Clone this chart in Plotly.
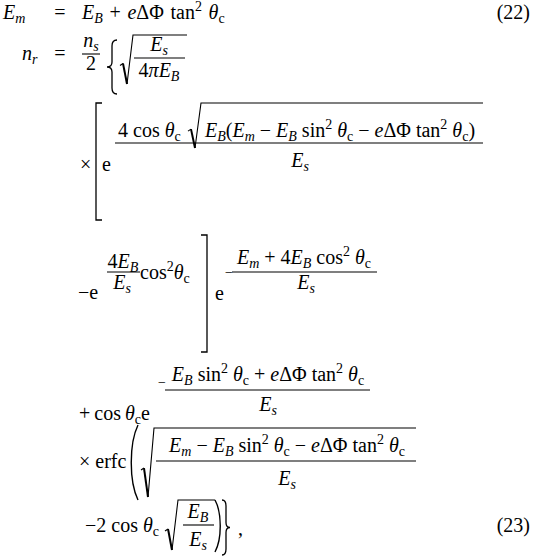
import plotly.graph_objects as go

# ---------------- content (text tokens of the equations) ----------------
def it(s):
    return "<i>" + s + "</i>"

SP = "\u2004"  # slightly wider math space
TH = "\u2009"  # thin space
Em = it("E") + "<sub>" + it("m") + "</sub>"
EB = it("E") + "<sub>" + it("B") + "</sub>"
Es = it("E") + "<sub>" + it("s") + "</sub>"
thc = it("θ") + "<sub>c</sub>"
SQ = "<sup>2</sup>"
eDF = it("e") + "ΔΦ"
small_minus = '<span style="font-size:14px">−</span>'

eq_numbers = ["(22)", "(23)"]
lhs_labels = [Em, it("n") + "<sub>" + it("r") + "</sub>"]
row1_rhs = EB + SP + "+" + SP + eDF + SP + "tan" + SQ + SP + thc
row3_num_a = "4 cos " + thc
row3_num_b = EB + "(" + Em + " − " + EB + " sin" + SQ + " " + thc + " − " + eDF + " tan" + SQ + " " + thc + ")"
row4_num = Em + " + 4" + EB + " cos" + SQ + " " + thc
row5_num = EB + " sin" + SQ + " " + thc + " + " + eDF + " tan" + SQ + " " + thc
row6_num = Em + " − " + EB + " sin" + SQ + " " + thc + " − " + eDF + " tan" + SQ + " " + thc

tokens = [
    lhs_labels[0], "=", row1_rhs, eq_numbers[0],
    lhs_labels[1], "=", it("n") + "<sub>" + it("s") + "</sub>", "2", Es, "4" + it("π") + EB,
    "×", "e", row3_num_a, row3_num_b, Es,
    "−e", "4" + EB, Es, "cos" + SQ + thc, "e", small_minus, row4_num, Es,
    "+" + TH + "cos" + TH + thc + "e", small_minus, row5_num, Es,
    "× erfc", row6_num, Es,
    "−2 cos " + thc, EB, Es, ",", eq_numbers[1],
]
tok_x = [
    3, 60, 82, 530,
    22, 60, 91, 91, 159, 159,
    80, 102, 118, 205, 300,
    78, 123, 122, 140, 215, 225, 304, 306,
    79, 158, 268, 268,
    79, 287, 287,
    85, 198, 198, 238, 530,
]
tok_base = [
    19, 19, 19, 19,
    60, 60, 47, 70, 51, 77,
    171, 171, 137, 137, 167,
    299, 268, 289, 279, 300, 277, 264, 289,
    420, 387, 381, 411,
    468, 452, 485,
    532, 518, 546, 535, 532,
]
tok_align = [
    "l", "c", "l", "r",
    "l", "c", "c", "c", "c", "c",
    "l", "l", "l", "l", "c",
    "l", "c", "c", "l", "l", "l", "c", "c",
    "l", "l", "c", "c",
    "l", "c", "c",
    "l", "c", "c", "l", "r",
]

FS = 20
FONT = dict(family="Liberation Serif", size=FS, color="black")
POS = {"l": "middle right", "c": "middle center", "r": "middle left"}

fig = go.Figure()
for a in ["l", "c", "r"]:
    idx = [i for i, v in enumerate(tok_align) if v == a]
    fig.add_trace(go.Scatter(
        x=[tok_x[i] for i in idx],
        y=[tok_base[i] - 0.25 * FS for i in idx],
        text=[tokens[i] for i in idx],
        mode="text", textposition=POS[a], textfont=FONT,
        hoverinfo="skip", cliponaxis=False, showlegend=False,
    ))

shapes = []
LW = 1.1

def hline(x0, x1, y, w=LW):
    shapes.append(dict(type="line", xref="x", yref="y", x0=x0, x1=x1, y0=y, y1=y,
                       line=dict(color="black", width=w)))

def path(d, w=LW):
    shapes.append(dict(type="path", xref="x", yref="y", path=d,
                       line=dict(color="black", width=w)))

def radical(x0, ytop, ybot, xend):
    ymid = ybot - (ybot - ytop) * 0.42
    path(f"M{x0},{ymid + 2} L{x0 + 3},{ymid}")
    path(f"M{x0 + 3},{ymid} L{x0 + 7},{ybot}", 2.0)
    path(f"M{x0 + 7},{ybot} L{x0 + 13},{ytop} L{xend},{ytop}")

def lbracket(x, y0, y1):
    path(f"M{x + 6},{y0} L{x},{y0} L{x},{y1} L{x + 6},{y1}", 1.3)

def rbracket(x, y0, y1):
    path(f"M{x - 6},{y0} L{x},{y0} L{x},{y1} L{x - 6},{y1}", 1.3)

def brace(xl, xr, y0, y1, left=True):
    ym = (y0 + y1) / 2
    xm = (xl + xr) / 2
    a, b = (xr, xl) if left else (xl, xr)
    d = (f"M{a},{y0} Q{xm},{y0} {xm},{y0 + 6} L{xm},{ym - 5} Q{xm},{ym} {b},{ym} "
         f"Q{xm},{ym} {xm},{ym + 5} L{xm},{y1 - 6} Q{xm},{y1} {a},{y1}")
    path(d, 1.3)

def paren(xl, xr, y0, y1, left=True):
    h = y1 - y0
    a, b = (xr, xl) if left else (xl, xr)
    path(f"M{a},{y0} C{b},{y0 + h * 0.25} {b},{y1 - h * 0.25} {a},{y1}", 1.4)

# row 2
hline(82, 100, 54)
brace(107, 117, 40, 94)
radical(120, 35, 84, 187)
hline(134, 185, 58)
# row 3
lbracket(96, 103, 220)
radical(188, 103, 148, 483)
hline(115, 483, 143)
# row 4
hline(107, 140, 272)
rbracket(207, 235, 352)
hline(232, 377, 272)
# row 5
hline(165, 370, 390)
# row 6
paren(129, 138, 425, 500)
radical(141, 428, 497, 416)
hline(156, 416, 461)
# row 7
radical(165, 500, 550, 215)
hline(183, 214, 525)
paren(215, 222, 500, 552, left=False)
brace(222, 230, 500, 555, left=False)

fig.update_layout(
    width=535, height=560, autosize=False,
    margin=dict(l=0, r=0, t=0, b=0),
    paper_bgcolor="white", plot_bgcolor="white",
    xaxis=dict(range=[0, 535], visible=False, fixedrange=True),
    yaxis=dict(range=[560, 0], visible=False, fixedrange=True),
    shapes=shapes, showlegend=False,
)
fig.write_html("out.html", config={"displayModeBar": False},
               post_script="document.body.style.margin='0';document.body.style.overflow='hidden';")
